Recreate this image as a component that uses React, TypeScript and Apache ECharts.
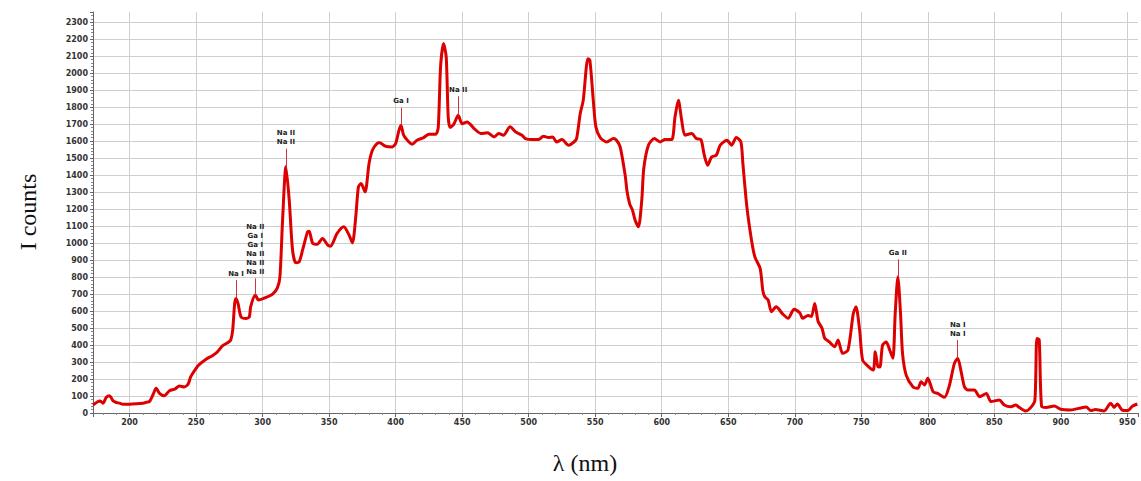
import { useEffect, useRef } from "react";
import * as echarts from "echarts";

// Emission spectrum: wavelength (nm) against intensity (counts)
const wavelengths = [
  172.5, 176, 178, 180, 182.5, 185, 187.5, 190, 192.5, 195, 200, 205, 210, 213, 215, 217.5, 220, 222.5, 226, 230,
  234, 237.5, 241, 244, 246, 250, 252.5, 257.5, 262.5, 266, 270, 274, 276, 277.5, 279, 280, 281.5, 283.75, 287.5, 290,
  291, 294.5, 297, 302.5, 307.5, 311, 313, 315, 317.5, 320, 322.5, 325, 327.5, 330, 333.75, 335, 337.5, 341, 345, 349,
  351, 356, 361, 365, 367.5, 370, 372, 374, 377, 380, 382.5, 386, 388, 392.5, 397.5, 400, 402.5, 404, 406, 410,
  412.5, 416, 421, 425, 430, 432, 433.75, 436, 438, 439.5, 441, 443.75, 447, 450, 453.75, 459, 464, 469, 474, 477.5,
  481, 486, 490, 495, 497.5, 502.5, 507.5, 511, 515, 518, 521, 525, 530, 534, 536, 538.75, 541, 544.5, 546, 548.75,
  550.5, 553.75, 558.75, 563.75, 566, 568.75, 572.5, 574, 576, 578, 580, 582.5, 585, 586.5, 590, 594.5, 598.75, 602.5, 607.5, 610,
  612.5, 615, 617.5, 622.5, 626, 629.5, 632, 634.5, 637.5, 641, 644, 649, 652.5, 656, 659.5, 661, 664, 667.5, 670, 674,
  676, 677.5, 680, 682.5, 686, 691, 695, 699.5, 703.75, 706, 710, 712.5, 715, 717.5, 720.5, 722.5, 726, 730, 732.5, 736,
  740, 744, 746, 748.75, 751, 755, 759, 760.5, 762.5, 764, 766, 768.75, 771, 773.75, 775.5, 777.5, 779.5, 781, 783.75, 788.75,
  792.5, 795, 797.5, 800, 804, 807.5, 812.5, 816, 820, 822.5, 825, 827.5, 830, 835, 839, 844, 847.5, 853.75, 857.5, 862.5,
  866, 868.75, 873.75, 877.5, 880.5, 882, 883.75, 885.5, 889, 895, 900, 907.5, 915, 919, 922.5, 926, 932.5, 937.5, 940, 942.5,
  946, 950, 954, 957.5,
];

const counts = [
  47, 66, 70, 58, 92, 102, 72, 62, 58, 52, 52, 54, 58, 64, 68, 106, 145, 116, 102, 131,
  141, 159, 153, 170, 214, 263, 286, 317, 339, 360, 396, 415, 429, 488, 645, 674, 645, 566, 556, 566,
  625, 694, 665, 680, 700, 735, 800, 1135, 1449, 1253, 958, 884, 890, 958, 1066, 1070, 1001, 993, 1027, 988,
  982, 1057, 1096, 1047, 1001, 1154, 1330, 1350, 1301, 1468, 1546, 1586, 1590, 1570, 1566, 1586, 1664, 1694, 1635, 1595,
  1582, 1605, 1621, 1640, 1640, 1680, 2036, 2174, 2096, 1743, 1680, 1700, 1752, 1703, 1713, 1674, 1645, 1649, 1625, 1645,
  1635, 1684, 1655, 1635, 1615, 1609, 1609, 1629, 1621, 1625, 1595, 1609, 1576, 1595, 1615, 1762, 1840, 2085, 2075, 1821,
  1684, 1621, 1595, 1615, 1605, 1566, 1400, 1300, 1228, 1194, 1135, 1096, 1253, 1439, 1576, 1615, 1595, 1609, 1609, 1743,
  1840, 1723, 1635, 1645, 1615, 1609, 1517, 1458, 1507, 1517, 1576, 1605, 1576, 1621, 1595, 1468, 1213, 1017, 919, 850,
  720, 684, 664, 596, 625, 582, 557, 610, 590, 557, 574, 568, 645, 540, 498, 440, 418, 390, 429, 351,
  370, 586, 625, 488, 312, 276, 253, 361, 272, 270, 400, 418, 379, 322, 586, 802, 586, 351, 223, 155,
  145, 184, 165, 204, 125, 115, 92, 155, 292, 322, 245, 155, 135, 135, 96, 115, 67, 76, 47, 37,
  47, 33, 12, 33, 76, 439, 430, 41, 33, 41, 22, 18, 30, 35, 14, 20, 12, 57, 33, 53,
  18, 14, 41, 53,
];

// Identified emission lines: position, label and the height the marker reaches
const lineWavelengths = [280, 294.5, 317.5, 404, 447, 777.5, 822.5];
const lineLabels = [
  "Na I",
  "Na II\nGa I\nGa I\nNa II\nNa II\nNa II",
  "Na II\nNa II",
  "Ga I",
  "Na II",
  "Ga II",
  "Na I\nNa I",
];
const lineTops = [782, 792, 1556, 1797, 1864, 905, 429];

const xTitle = "λ (nm)";
const yTitle = "I counts";

export default function App() {
  const ref = useRef<HTMLDivElement>(null);

  useEffect(() => {
    if (!ref.current) return;
    const chart = echarts.init(ref.current, null, { renderer: "svg" });

    const points = wavelengths.map((w, i) => [w, counts[i]]);
    const markers = lineWavelengths.map((w, i) => {
      const peak = counts[wavelengths.indexOf(w)];
      return [
        { coord: [w, peak] },
        { coord: [w, lineTops[i]], label: { formatter: lineLabels[i] } },
      ];
    });

    const labelFont = {
      fontFamily: "DejaVu Sans",
      fontSize: 8,
      fontWeight: "bold" as const,
      color: "#333",
    };

    chart.setOption({
      animation: false,
      backgroundColor: "#fff",
      grid: { left: 93, right: 0, top: 12, bottom: 68, containLabel: false },
      xAxis: {
        type: "value",
        min: 172.5,
        max: 958,
        minInterval: 50,
        maxInterval: 50,
        axisLine: { show: true, lineStyle: { color: "#666", width: 1 } },
        axisTick: { show: true, length: 4, lineStyle: { color: "#666" } },
        minorTick: { show: true, splitNumber: 5, length: 2, lineStyle: { color: "#888" } },
        axisLabel: {
          ...labelFont,
          margin: 5,
          formatter: (v: number) => (v % 50 === 0 ? String(v) : ""),
        },
        splitLine: { show: true, showMinLine: false, showMaxLine: false, lineStyle: { color: "#cfcfcf", width: 1 } },
      },
      yAxis: {
        type: "value",
        min: 0,
        max: 2360,
        minInterval: 100,
        maxInterval: 100,
        axisLine: { show: true, lineStyle: { color: "#666", width: 1 } },
        axisTick: { show: true, length: 3, lineStyle: { color: "#666" } },
        minorTick: { show: true, splitNumber: 5, length: 2, lineStyle: { color: "#888" } },
        axisLabel: {
          ...labelFont,
          margin: 5,
          formatter: (v: number) => (v % 100 === 0 ? String(v) : ""),
        },
        splitLine: { show: true, showMinLine: false, showMaxLine: false, lineStyle: { color: "#cfcfcf", width: 1 } },
      },
      series: [
        {
          type: "line",
          data: points,
          showSymbol: false,
          smooth: 0.25,
          lineStyle: { color: "#dd0000", width: 3 },
          z: 3,
          markLine: {
            silent: true,
            symbol: "none",
            lineStyle: { color: "#cc3344", width: 1, type: "solid" },
            label: {
              show: true,
              position: "end",
              distance: 2,
              fontFamily: "DejaVu Sans",
              fontSize: 7,
              fontWeight: "bold",
              lineHeight: 9,
              color: "#222",
            },
            data: markers,
          },
        },
      ],
      graphic: [
        {
          type: "text",
          x: 28,
          y: 212,
          rotation: Math.PI / 2,
          style: {
            text: yTitle,
            fontFamily: "Liberation Serif",
            fontSize: 24,
            fill: "#111",
            textAlign: "center",
            textVerticalAlign: "middle",
          },
        },
        {
          type: "text",
          x: 585,
          y: 463,
          style: {
            text: xTitle,
            fontFamily: "Liberation Serif",
            fontSize: 24,
            fill: "#111",
            textAlign: "center",
            textVerticalAlign: "middle",
          },
        },
      ],
    });

    return () => chart.dispose();
  }, []);

  return (
    <div
      ref={ref}
      style={{ position: "absolute", left: 0, top: 0, width: 1141, height: 481, background: "#fff" }}
    />
  );
}
